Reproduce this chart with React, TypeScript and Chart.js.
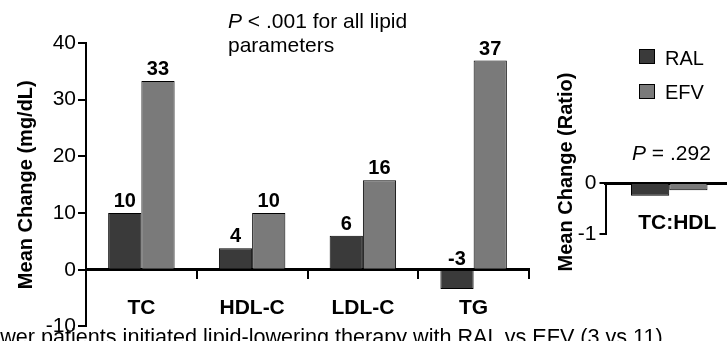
import React, { useEffect, useRef } from 'react';
import { Chart, registerables } from 'chart.js';

Chart.register(...registerables);

const FONT = "'Liberation Sans', Arial, Helvetica, sans-serif";

const categories = ['TC', 'HDL-C', 'LDL-C', 'TG'];
const ralValues = [10, 3.8, 6, -3.4];
const efvValues = [33.3, 10, 15.8, 36.9];
const ralLabels = ['10', '4', '6', '-3'];
const efvLabels = ['33', '10', '16', '37'];
const yMin = -10;
const yMax = 40;
const yStep = 10;

const ratioCategories = ['TC:HDL'];
const ralRatio = [-0.25];
const efvRatio = [-0.14];
const ratioMin = -1;
const ratioMax = 0;

const seriesNames = ['RAL', 'EFV'];
const RAL_COLOR = '#3a3a3a';
const EFV_COLOR = '#7a7a7a';

const valueLabelPlugin = {
  id: 'valueLabels',
  afterDatasetsDraw(chart: any) {
    const ctx = chart.ctx;
    ctx.save();
    ctx.font = `bold 20px ${FONT}`;
    ctx.fillStyle = '#000';
    ctx.textAlign = 'center';
    ctx.textBaseline = 'alphabetic';
    chart.data.datasets.forEach((ds: any, i: number) => {
      if (!ds.valueLabels) return;
      const meta = chart.getDatasetMeta(i);
      meta.data.forEach((bar: any, j: number) => {
        const top = Math.min(bar.y, bar.base);
        ctx.fillText(ds.valueLabels[j], bar.x, top - 6);
      });
    });
    ctx.restore();
  },
};

export default function App() {
  const mainRef = useRef<HTMLCanvasElement>(null);
  const ratioRef = useRef<HTMLCanvasElement>(null);

  useEffect(() => {
    const main = new Chart(mainRef.current!, {
      type: 'bar',
      data: {
        labels: categories,
        datasets: [
          {
            label: seriesNames[0],
            data: ralValues,
            backgroundColor: RAL_COLOR,
            borderColor: '#000',
            borderWidth: 1,
            categoryPercentage: 0.6,
            barPercentage: 1,
            valueLabels: ralLabels,
          } as any,
          {
            label: seriesNames[1],
            data: efvValues,
            backgroundColor: EFV_COLOR,
            borderColor: '#000',
            borderWidth: 1,
            categoryPercentage: 0.6,
            barPercentage: 1,
            valueLabels: efvLabels,
          } as any,
        ],
      },
      options: {
        animation: false,
        responsive: false,
        layout: { padding: { top: 43, bottom: 11, left: 0, right: 11 } },
        plugins: { legend: { display: false }, tooltip: { enabled: false } },
        scales: {
          x: {
            type: 'category',
            position: { y: 0 } as any,
            grid: {
              display: true,
              drawOnChartArea: false,
              drawTicks: true,
              tickLength: 8,
              color: '#000',
              lineWidth: 2,
              offset: true,
            },
            border: { display: true, color: '#000', width: 3 },
            ticks: {
              color: '#000',
              font: { family: FONT, size: 21, weight: 'bold' },
              padding: 18,
              maxRotation: 0,
            },
            afterFit: (s: any) => {
              s.height = 0;
            },
          },
          y: {
            min: yMin,
            max: yMax,
            ticks: {
              stepSize: yStep,
              color: '#000',
              font: { family: FONT, size: 21 },
              padding: 2,
            },
            grid: {
              drawOnChartArea: false,
              tickLength: 8,
              color: '#000',
              lineWidth: 2,
            },
            border: { display: true, color: '#000', width: 2 },
            title: {
              display: true,
              text: 'Mean Change (mg/dL)',
              color: '#000',
              font: { family: FONT, size: 20, weight: 'bold' },
              padding: { top: 14, bottom: 0 },
            },
            afterFit: (s: any) => {
              s.width = 86;
            },
          },
        },
      },
      plugins: [valueLabelPlugin],
    });

    const ratio = new Chart(ratioRef.current!, {
      type: 'bar',
      data: {
        labels: ratioCategories,
        datasets: [
          {
            label: seriesNames[0],
            data: ralRatio,
            backgroundColor: RAL_COLOR,
            borderColor: '#000',
            borderWidth: 1,
            categoryPercentage: 0.6,
            barPercentage: 1,
          },
          {
            label: seriesNames[1],
            data: efvRatio,
            backgroundColor: EFV_COLOR,
            borderColor: '#000',
            borderWidth: 1,
            categoryPercentage: 0.6,
            barPercentage: 1,
          },
        ],
      },
      options: {
        animation: false,
        responsive: false,
        layout: { padding: { top: 183, bottom: 107, left: 0, right: 7 } },
        plugins: { legend: { display: false }, tooltip: { enabled: false } },
        scales: {
          x: {
            type: 'category',
            position: { y: 0 } as any,
            grid: { display: true, drawOnChartArea: false, drawTicks: false },
            border: { display: true, color: '#000', width: 3 },
            ticks: {
              color: '#000',
              font: { family: FONT, size: 21, weight: 'bold' },
              padding: 28,
              labelOffset: 8,
              maxRotation: 0,
            },
            afterFit: (s: any) => {
              s.height = 0;
            },
          },
          y: {
            min: ratioMin,
            max: ratioMax,
            ticks: {
              stepSize: 1,
              color: '#000',
              font: { family: FONT, size: 21 },
              padding: 3,
            },
            grid: {
              drawOnChartArea: false,
              tickLength: 6,
              color: '#000',
              lineWidth: 2,
            },
            border: { display: true, color: '#000', width: 2 },
            afterFit: (s: any) => {
              s.width = 65.5;
            },
          },
        },
      },
    });

    return () => {
      main.destroy();
      ratio.destroy();
    };
  }, []);

  const text: React.CSSProperties = {
    position: 'absolute',
    fontFamily: FONT,
    fontSize: 21,
    lineHeight: '24px',
    color: '#000',
    whiteSpace: 'nowrap',
  };

  return (
    <div
      style={{
        position: 'fixed',
        left: 0,
        top: 0,
        width: 727,
        height: 341,
        overflow: 'hidden',
        background: '#fff',
      }}
    >
      <canvas ref={mainRef} width={540} height={341} style={{ position: 'absolute', left: 0, top: 0 }} />
      <canvas ref={ratioRef} width={200} height={341} style={{ position: 'absolute', left: 540, top: 0 }} />

      <div style={{ ...text, left: 228, top: 9 }}>
        <i>P</i> &lt; .001 for all lipid
        <br />
        parameters
      </div>

      <div
        style={{
          ...text,
          fontSize: 20,
          fontWeight: 'bold',
          left: 435,
          top: 160,
          width: 260,
          textAlign: 'center',
          transform: 'rotate(-90deg)',
          transformOrigin: '130px 12px',
        }}
      >
        Mean Change (Ratio)
      </div>

      <div style={{ ...text, left: 632, top: 141 }}>
        <i>P</i> = .292
      </div>

      <div style={{ position: 'absolute', left: 639, top: 49, width: 14, height: 13, background: RAL_COLOR, border: '1px solid #000' }} />
      <div style={{ ...text, fontSize: 20, left: 665, top: 46 }}>{seriesNames[0]}</div>
      <div style={{ position: 'absolute', left: 639, top: 84, width: 14, height: 13, background: EFV_COLOR, border: '1px solid #000' }} />
      <div style={{ ...text, fontSize: 20, left: 665, top: 80 }}>{seriesNames[1]}</div>

      <div style={{ ...text, fontSize: 21.6, left: -25, top: 325 }}>
        Fewer patients initiated lipid-lowering therapy with RAL vs EFV (3 vs 11)
      </div>
    </div>
  );
}
